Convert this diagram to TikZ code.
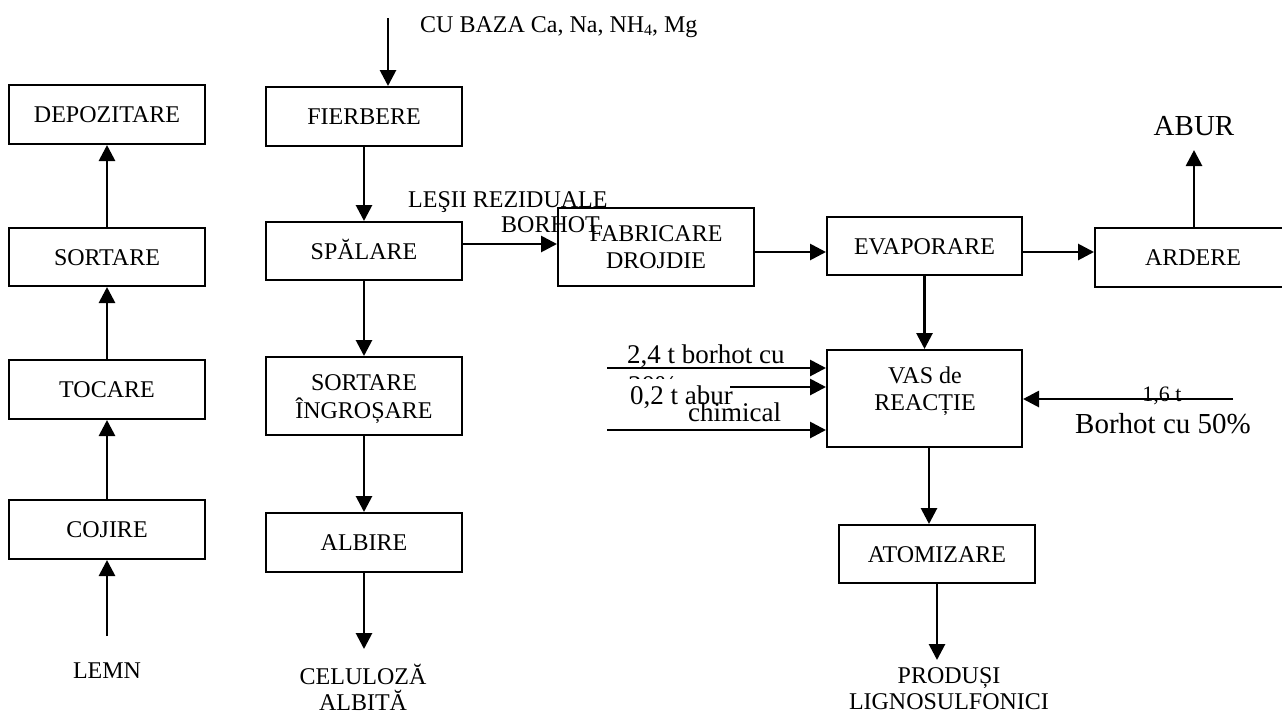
\documentclass[tikz,border=0pt]{standalone}
\usepackage{fontspec}
\setmainfont{Liberation Serif}
\usetikzlibrary{arrows.meta}
\newcommand\fbx{\fontsize{24}{28}\selectfont}
\newcommand\fmd{\fontsize{27}{31}\selectfont}
\newcommand\flg{\fontsize{29}{33}\selectfont}
\newcommand\fsm{\fontsize{22}{26}\selectfont}
\begin{document}
\begin{tikzpicture}[x=1pt,y=-1pt,
  box/.style={draw,line width=2pt,minimum width=196pt,minimum height=59pt,inner sep=0pt,font=\fbx,text height=16pt,text depth=0pt},
  arr/.style={line width=2.8pt,-{Triangle[length=16pt,width=16pt]}},
  lbl/.style={inner sep=0pt,anchor=base}]
\useasboundingbox (0,0) rectangle (1282,713);

% boxes
\node[box] (depoz) at (107,114.5) {DEPOZITARE};
\node[box,minimum height=58pt] (sortL) at (107,257) {SORTARE};
\node[box] (tocare) at (107,389.5) {TOCARE};
\node[box] (cojire) at (107,529.5) {COJIRE};
\node[box] (fierbere) at (364,116.5) {FIERBERE};
\node[box,minimum height=58pt] (spalare) at (364,251) {SPĂLARE};
\node[box,minimum height=78pt] (sortingr) at (364,396) {};
\node[box] (albire) at (364,542.5) {ALBIRE};
\node[box,minimum height=78pt] (fabric) at (656,247) {};
\node[box,minimum width=195pt,minimum height=58pt] (evap) at (924.5,246) {EVAPORARE};
\node[box] (ardere) at (1193,257.5) {ARDERE};
\node[box,minimum width=195pt,minimum height=97pt] (vas) at (924.5,398.5) {};
\node[box,minimum height=58pt] (atom) at (937,554) {ATOMIZARE};

% two-line box texts
\node[lbl,font=\fbx] (sortingrA) at (364,390) {SORTARE};
\node[lbl,font=\fbx] (sortingrB) at (364,418) {ÎNGROȘARE};
\node[lbl,font=\fbx] (fabricA) at (656,241) {FABRICARE};
\node[lbl,font=\fbx] (fabricB) at (656,268) {DROJDIE};
\node[lbl,font=\fbx] (vasA) at (925,383) {VAS de};
\node[lbl,font=\fbx] (vasB) at (925,410) {REACȚIE};

% free texts
\node[lbl,anchor=base west,font=\fbx] (cubaza) at (420,32) {CU BAZA Ca, Na, NH\raisebox{-3pt}{\fontsize{16}{16}\selectfont 4}, Mg};
\node[lbl,anchor=base west,font=\fbx] (lesii) at (408,207) {LEŞII REZIDUALE};
\node[lbl,anchor=base west,font=\fbx] (borhot) at (501,232) {BORHOT};
\node[lbl,font=\flg] (abur) at (1194,135) {ABUR};
\node[lbl,font=\fbx] (lemn) at (107,678) {LEMN};
\node[lbl,font=\fbx] (celA) at (363,684) {CELULOZĂ};
\node[lbl,font=\fbx] (celB) at (363,710) {ALBITĂ};
\node[lbl,font=\fbx] (prodA) at (949,683) {PRODUȘI};
\node[lbl,font=\fbx] (prodB) at (949,709) {LIGNOSULFONICI};
\node[lbl,anchor=base west,font=\fmd] (in1) at (627,363) {2,4 t borhot cu};
\begin{scope}
  \clip (600,370) rectangle (700,378.8);
  \node[lbl,anchor=base west,font=\fmd] (in1b) at (628,394) {30\%};
\end{scope}
\node[lbl,anchor=base west,font=\fmd] (in2) at (630,404) {0,2 t abur};
\node[lbl,anchor=base west,font=\fmd] (in3) at (688,421) {chimical};
\node[lbl,font=\fsm] (r1) at (1162,401) {1,6 t};
\node[lbl,anchor=base west,font=\flg] (r2) at (1075,433) {Borhot cu 50\%};

% free connector ends
\coordinate (topS) at (388,18);
\coordinate (celE) at (364,649);
\coordinate (aburE) at (1194,150);
\coordinate (prodE) at (937,660);
\coordinate (lemnS) at (107,636);
\coordinate (i1) at (607,368);
\coordinate (i2) at (730,387);
\coordinate (i3) at (607,430);
\coordinate (rS) at (1233,399);
\coordinate (yA) at (0,244);
\coordinate (yB) at (0,252);
\coordinate (xV) at (929,0);

% connectors
\draw[arr] (topS) -- (topS |- fierbere.north);
\draw[arr] (fierbere.south) -- (spalare.north);
\draw[arr] (spalare.south) -- (sortingr.north);
\draw[arr] (sortingr.south) -- (albire.north);
\draw[arr] (albire.south) -- (celE);
\draw[arr] (spalare.east |- yA) -- (fabric.west |- yA);
\draw[arr] (fabric.east |- yB) -- (evap.west |- yB);
\draw[arr] (evap.east |- yB) -- (ardere.west |- yB);
\draw[arr] (ardere.north -| aburE) -- (aburE);
\draw[arr] (evap.south) -- (vas.north);
\draw[arr] (vas.south -| xV) -- (atom.north -| xV);
\draw[arr] (atom.south) -- (prodE);
\draw[arr] (lemnS) -- (cojire.south);
\draw[arr] (cojire.north) -- (tocare.south);
\draw[arr] (tocare.north) -- (sortL.south);
\draw[arr] (sortL.north) -- (depoz.south);
\draw[arr] (i1) -- (i1 -| vas.west);
\draw[arr] (i2) -- (i2 -| vas.west);
\draw[arr] (i3) -- (i3 -| vas.west);
\draw[arr] (rS) -- (rS -| vas.east);
\end{tikzpicture}
\end{document}
